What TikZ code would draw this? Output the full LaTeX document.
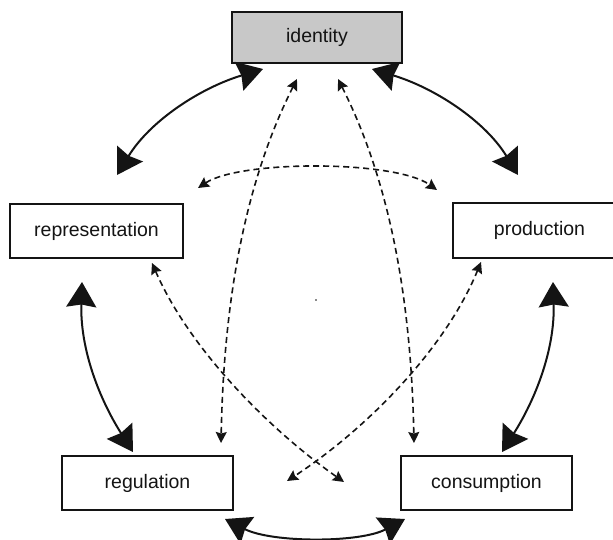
\documentclass[tikz,border=0pt]{standalone}
\usepackage{fontspec}
\setmainfont{Liberation Sans}
\usetikzlibrary{arrows.meta}
\definecolor{idfill}{RGB}{200,200,200}
\definecolor{ink}{RGB}{20,20,20}
\begin{document}
\begin{tikzpicture}[x=1pt,y=-1pt,
  box/.style={draw=ink,line width=1.6pt,rectangle,inner sep=0pt,font=\fontsize{19.5}{22}\selectfont,text=ink},
  bigarrow/.style={draw=ink,line width=2pt,{Stealth[length=25pt,width=30pt,inset=2.5pt]}-{Stealth[length=25pt,width=30pt,inset=2.5pt]}},
  dasharrow/.style={draw=ink,line width=1.6pt,dash pattern=on 6pt off 4pt,{Stealth[length=11pt,width=11pt,inset=1.5pt]}-{Stealth[length=11pt,width=11pt,inset=1.5pt]}}]
\useasboundingbox[fill=white] (0,0) rectangle (613,539);

% boxes
\node[box,fill=idfill,minimum width=170pt,minimum height=51pt] (id) at (317,37.5) {identity};
\node[box,minimum width=173pt,minimum height=54pt] (rep) at (96.5,231) {representation};
\node[box,minimum width=173pt,minimum height=55pt] (prod) at (539.5,230.5) {production};
\node[box,minimum width=171pt,minimum height=54pt] (reg) at (147.5,483) {regulation};
\node[box,minimum width=171pt,minimum height=54pt] (cons) at (486.5,483) {consumption};

% connector end points
\coordinate (idL) at (263,69);
\coordinate (idR) at (372,69);
\coordinate (repT) at (117,175);
\coordinate (prodT) at (518,175);
\coordinate (repB) at (82,282);
\coordinate (regT) at (133,452);
\coordinate (prodB) at (553,282);
\coordinate (consT) at (502,452);
\coordinate (regB) at (225,519);
\coordinate (consB) at (405,519);

\coordinate (idDL) at (297,79);
\coordinate (idDR) at (338,79);
\coordinate (regD) at (221,443);
\coordinate (consD) at (414,443);
\coordinate (repD) at (152,263);
\coordinate (consX) at (344,482);
\coordinate (prodD) at (481,262);
\coordinate (regX) at (287,481);
\coordinate (repA) at (198,188);
\coordinate (prodA) at (437,190);

% solid double arrows
\draw[bigarrow] (idL) .. controls (200,88) and (150,121) .. (repT);
\draw[bigarrow] (idR) .. controls (435,88) and (485,121) .. (prodT);
\draw[bigarrow] (repB) .. controls (80,350) and (100,400) .. (regT);
\draw[bigarrow] (prodB) .. controls (555,350) and (535,400) .. (consT);
\draw[bigarrow] (regB) .. controls (272,543) and (360,543) .. (consB);

% dashed double arrows
\draw[dasharrow] (idDL) .. controls (247,178) and (224,293) .. (regD);
\draw[dasharrow] (idDR) .. controls (388,178) and (411,293) .. (consD);
\draw[dasharrow] (repD) .. controls (190,350) and (270,430) .. (consX);
\draw[dasharrow] (prodD) .. controls (445,350) and (365,430) .. (regX);
\draw[dasharrow] (repA) .. controls (240,160) and (395,160) .. (prodA);

% small dot in the centre
\fill[ink] (316,300) circle (0.9pt);
\end{tikzpicture}
\end{document}
